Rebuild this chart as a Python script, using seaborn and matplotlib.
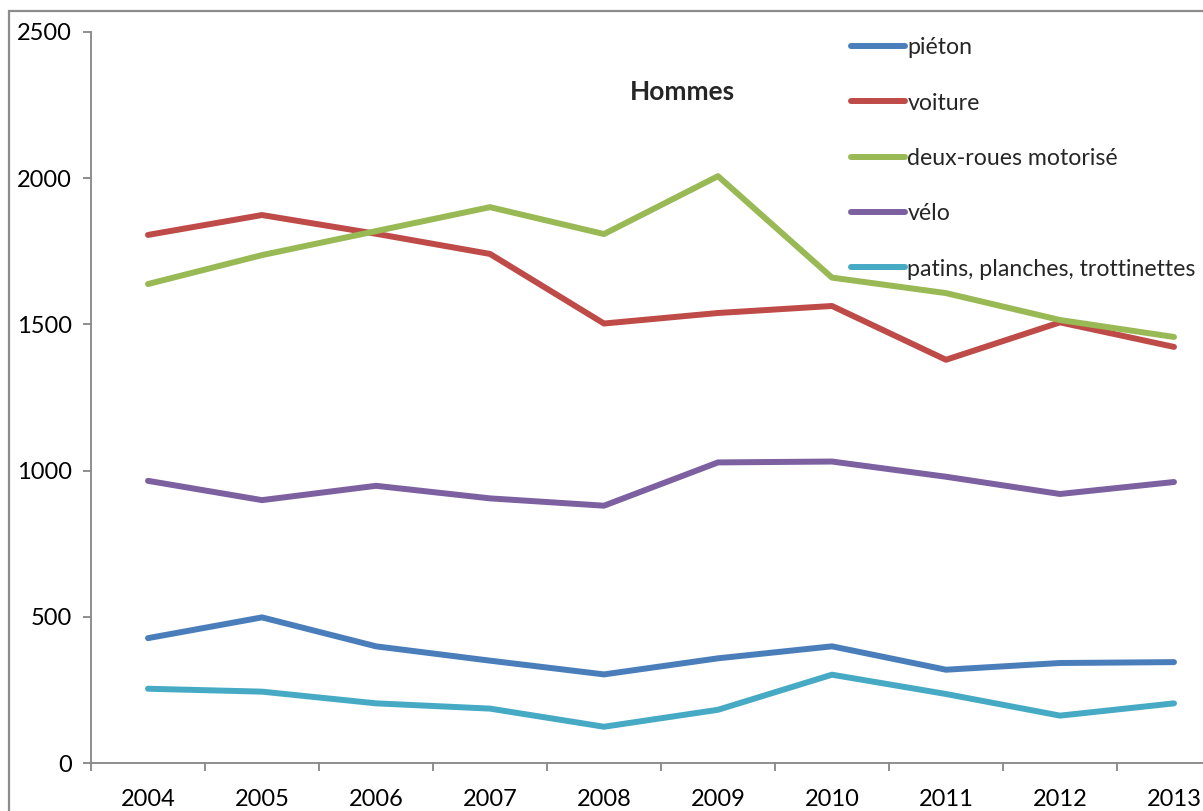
import numpy as np
import pandas as pd
import matplotlib
matplotlib.use("Agg")
import matplotlib.pyplot as plt
import seaborn as sns
from matplotlib.patches import Rectangle

years = ["2004", "2005", "2006", "2007", "2008", "2009", "2010", "2011", "2012", "2013"]
pieton = [427, 498, 399, 350, 303, 358, 399, 319, 342, 345]
voiture = [1806, 1874, 1810, 1741, 1503, 1539, 1563, 1379, 1507, 1423]
deux_roues = [1638, 1737, 1819, 1901, 1809, 2007, 1660, 1607, 1515, 1457]
velo = [965, 899, 948, 905, 880, 1028, 1031, 979, 920, 961]
patins = [254, 244, 204, 186, 124, 182, 302, 236, 162, 204]

series_names = ["piéton", "voiture", "deux-roues motorisé", "vélo",
                "patins, planches, trottinettes"]
series_values = [pieton, voiture, deux_roues, velo, patins]
colors = ["#4A7EBB", "#BE4B48", "#98B954", "#7D60A0", "#46AAC5"]
title = "Hommes"

rows = []
for name, vals in zip(series_names, series_values):
    for i, v in enumerate(vals):
        rows.append({"pos": i, "valeur": v, "serie": name})
df = pd.DataFrame(rows)

sns.set_theme(style="white")
plt.rcParams["font.family"] = ["Lato", "DejaVu Sans"]

fig = plt.figure(figsize=(12.03, 8.11), dpi=100)
ax = fig.add_axes([91 / 1203, 1 - 763 / 811, 1140 / 1203, (763 - 32) / 811])

sns.lineplot(data=df, x="pos", y="valeur", hue="serie", hue_order=series_names,
             palette=colors, linewidth=4.3, ax=ax, solid_capstyle="round",
             legend=True)

ax.set_xlim(-0.5, 9.5)
ax.set_ylim(0, 2500)
ax.set_yticks([0, 500, 1000, 1500, 2000, 2500])
ax.set_xticks(range(10))
ax.set_xticklabels(years)
ax.set_xticks(np.arange(-0.5, 10, 1), minor=True)
ax.set_xlabel("")
ax.set_ylabel("")

for s in ["top", "right"]:
    ax.spines[s].set_visible(False)
for s in ["left", "bottom"]:
    ax.spines[s].set_color("#868686")
    ax.spines[s].set_linewidth(1.3)

ax.tick_params(axis="y", which="major", direction="out", length=6, width=1.3,
               color="#868686", labelsize=17, labelcolor="black", pad=8, left=True)
ax.tick_params(axis="x", which="major", length=0, labelsize=17,
               labelcolor="black", pad=19, bottom=True)
ax.tick_params(axis="x", which="minor", direction="out", length=6, width=1.3,
               color="#868686", bottom=True)

ax.text((682 - 91) / 1140, 1 - (92 - 32) / 731, title, transform=ax.transAxes,
        ha="center", va="center", fontsize=19, fontweight="bold")

handles, labels = ax.get_legend_handles_labels()
leg = ax.legend(handles, labels, loc="upper left",
                bbox_to_anchor=(842 / 1203, 1 - 28 / 811),
                bbox_transform=fig.transFigure, frameon=False,
                fontsize=16.7, handlelength=2.3, handletextpad=0.12,
                labelspacing=1.48, borderaxespad=0)
for line in leg.get_lines():
    line.set_linewidth(4.3)
    line.set_solid_capstyle("round")

fig.patches.append(Rectangle((8.5 / 1203, -0.2), 1.5, 1.2 - 10.5 / 811,
                             transform=fig.transFigure, fill=False,
                             edgecolor="#8c8c8c", linewidth=1.6))

fig.savefig("out.png", dpi=100)
